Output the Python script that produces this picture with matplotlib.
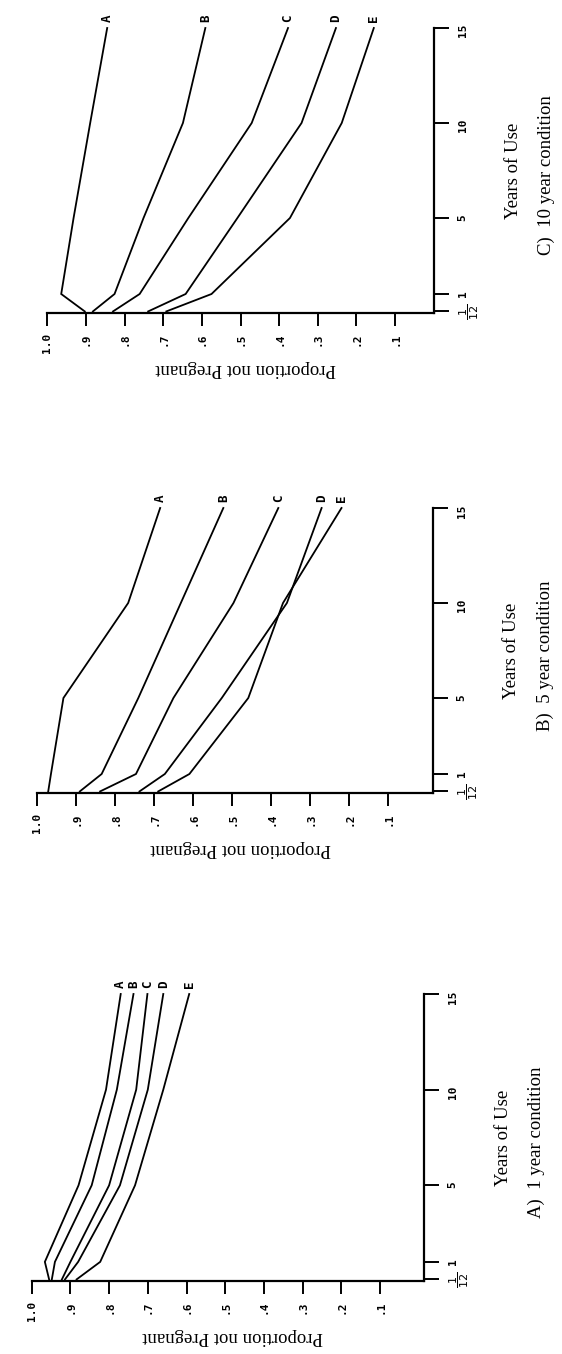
import matplotlib
matplotlib.use("Agg")
import matplotlib.pyplot as plt

# ---------------- data ----------------
years = [1/12, 1, 5, 10, 15]
series_names = ["A", "B", "C", "D", "E"]

# 1 year condition
cond1_A = [0.955, 0.966, 0.879, 0.808, 0.770]
cond1_B = [0.948, 0.940, 0.845, 0.780, 0.737]
cond1_C = [0.922, 0.900, 0.800, 0.730, 0.701]
cond1_D = [0.914, 0.880, 0.772, 0.700, 0.660]
cond1_E = [0.884, 0.823, 0.733, 0.660, 0.593]

# 5 year condition
cond5_A = [0.972, 0.965, 0.933, 0.767, 0.685]
cond5_B = [0.891, 0.835, 0.741, 0.632, 0.523]
cond5_C = [0.839, 0.747, 0.651, 0.497, 0.382]
cond5_D = [0.738, 0.673, 0.527, 0.360, 0.271]
cond5_E = [0.690, 0.610, 0.459, 0.370, 0.220]

# 10 year condition
cond10_A = [0.903, 0.964, 0.932, 0.889, 0.845]
cond10_B = [0.882, 0.826, 0.751, 0.649, 0.591]
cond10_C = [0.830, 0.761, 0.635, 0.471, 0.377]
cond10_D = [0.739, 0.642, 0.508, 0.342, 0.253]
cond10_E = [0.692, 0.575, 0.372, 0.238, 0.155]

prop_ticks = [1.0, 0.9, 0.8, 0.7, 0.6, 0.5, 0.4, 0.3, 0.2, 0.1]
prop_tick_labels = ["1.0", ".9", ".8", ".7", ".6", ".5", ".4", ".3", ".2", ".1"]
year_ticks = [1/12, 1, 5, 10, 15]
year_tick_labels = [r"$\dfrac{1}{12}$", "1", "5", "10", "15"]

x_label = "Years of Use"
y_label = "Proportion not Pregnant"
panel_titles = ["A)  1 year condition", "B)  5 year condition", "C)  10 year condition"]

panels = [
    (panel_titles[2], [cond10_A, cond10_B, cond10_C, cond10_D, cond10_E]),
    (panel_titles[1], [cond5_A, cond5_B, cond5_C, cond5_D, cond5_E]),
    (panel_titles[0], [cond1_A, cond1_B, cond1_C, cond1_D, cond1_E]),
]

# ---------------- layout (pixels in a 562 x 1354 image) ----------------
W, H = 562, 1354
# px of 1.0 tick, px of proportion 0, px of year axis, px of year 15, px of spine
boxes = [
    (47.3, 433.7, 434.0, 28, 313),
    (37.3, 427.3, 433.0, 508, 793),
    (31.7, 418.7, 424.0, 994, 1281),
]

def fx(px):
    return px / W

def fy(py):
    return 1 - py / H

fig = plt.figure(figsize=(W / 100, H / 100), dpi=100)
fig.patch.set_facecolor("white")

mono = ["DejaVu Sans Mono"]
serif = ["Liberation Serif", "DejaVu Serif"]

for (title, series), (l, z, r, t, b) in zip(panels, boxes):
    pmin = -(r - z) / (z - l)
    ax = fig.add_axes([fx(l), fy(b), (r - l) / W, (b - t) / H])
    ax.set_facecolor("none")
    for name, vals in zip(series_names, series):
        ax.plot(vals, years, color="black", lw=1.3, solid_joinstyle="miter",
                clip_on=False)
        ax.annotate(name, xy=(vals[-1], years[-1]), xytext=(0, 4),
                    textcoords="offset points", rotation=90,
                    ha="center", va="bottom", fontsize=9,
                    fontweight="bold", family=mono, annotation_clip=False)
    ax.set_xlim(1.0, pmin)
    ax.set_ylim(0, 15)
    for side in ("left", "top"):
        ax.spines[side].set_visible(False)
    for side in ("bottom", "right"):
        ax.spines[side].set_linewidth(1.6)
    ax.spines["right"].set_bounds(0, 15)
    ax.spines["bottom"].set_bounds(pmin, 1.0)

    ax.set_xticks(prop_ticks)
    ax.set_xticklabels(prop_tick_labels, family=mono, fontweight="bold",
                       fontsize=8)
    ax.tick_params(axis="x", direction="out", length=9, width=1.4, pad=5,
                   labelrotation=90)

    ax.yaxis.tick_right()
    ax.set_yticks(year_ticks)
    ax.set_yticklabels(year_tick_labels, family=mono, fontweight="bold",
                       fontsize=8)
    ax.tick_params(axis="y", direction="out", length=11, width=1.4, pad=6,
                   labelrotation=90, left=False, right=True)

    cy = (t + b) / 2
    fig.text(fx(r + 79), fy(cy), x_label, rotation=90, ha="center",
             va="center", fontsize=13.5, family=serif)
    fig.text(fx(r + 112), fy(cy + 5), title, rotation=90, ha="center",
             va="center", fontsize=13.5, family=serif)
    fig.text(fx((l + r) / 2 + 5), fy(b + 55), y_label, rotation=180,
             ha="center", va="center", fontsize=13.5, family=serif)

fig.savefig("out.png", dpi=100, facecolor="white")
